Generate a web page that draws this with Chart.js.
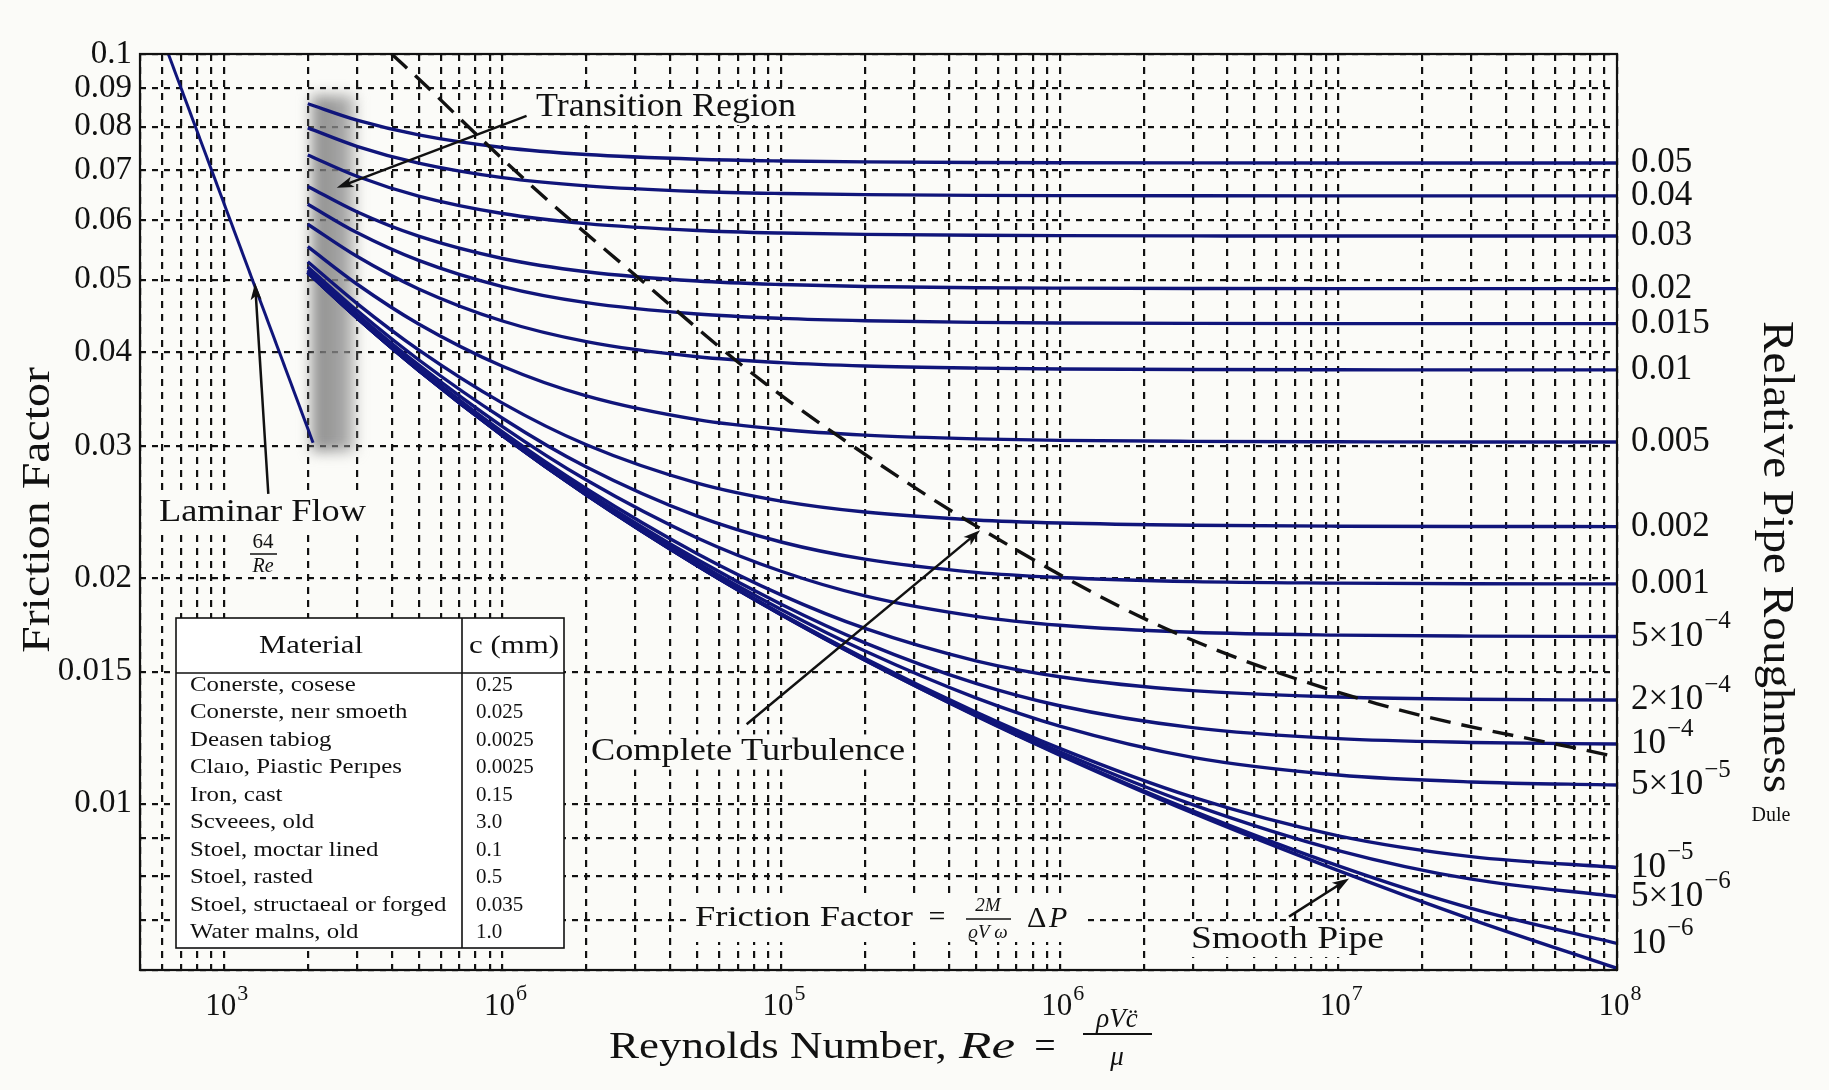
<!DOCTYPE html>
<html>
<head>
<meta charset="utf-8">
<title>Moody Diagram</title>
<script src="https://cdn.jsdelivr.net/npm/chart.js@4.4.1/dist/chart.umd.min.js"></script>
<style>
  html, body { margin: 0; padding: 0; background: #fbfbf8; }
  #wrap { width: 1829px; height: 1090px; }
</style>
</head>
<body>
<div id="wrap"><canvas id="moody" width="1829" height="1090"></canvas></div>
<script>
'use strict';

// ======= chart values =======

var reynolds = [2000, 3000, 5000, 1e4, 2e4, 5e4, 1e5, 2e5, 5e5, 1e6, 3e6, 1e7, 3e7, 1e8];

var rough0_05 = [0.08583, 0.08161, 0.07799, 0.07504, 0.07343, 0.07238, 0.07200, 0.07179, 0.07166, 0.07161, 0.07157, 0.07155, 0.07155, 0.07155];
var rough0_04 = [0.07972, 0.07532, 0.07152, 0.06840, 0.06669, 0.06556, 0.06515, 0.06493, 0.06478, 0.06473, 0.06469, 0.06467, 0.06467, 0.06467];
var rough0_03 = [0.07334, 0.06870, 0.06464, 0.06127, 0.05940, 0.05816, 0.05770, 0.05746, 0.05730, 0.05724, 0.05720, 0.05717, 0.05717, 0.05717];
var rough0_02 = [0.06658, 0.06159, 0.05714, 0.05336, 0.05123, 0.04979, 0.04926, 0.04897, 0.04878, 0.04872, 0.04867, 0.04864, 0.04864, 0.04864];
var rough0_015 = [0.06302, 0.05778, 0.05304, 0.04895, 0.04659, 0.04499, 0.04439, 0.04407, 0.04386, 0.04378, 0.04372, 0.04369, 0.04369, 0.04369];
var rough0_01 = [0.05928, 0.05372, 0.04860, 0.04404, 0.04134, 0.03946, 0.03875, 0.03836, 0.03811, 0.03801, 0.03794, 0.03791, 0.03790, 0.03790];
var rough0_005 = [0.05533, 0.04934, 0.04364, 0.03833, 0.03499, 0.03253, 0.03156, 0.03102, 0.03066, 0.03052, 0.03043, 0.03039, 0.03037, 0.03037];
var rough0_002 = [0.05283, 0.04650, 0.04030, 0.03422, 0.03011, 0.02677, 0.02533, 0.02449, 0.02390, 0.02368, 0.02352, 0.02345, 0.02343, 0.02342];
var rough0_001 = [0.05197, 0.04551, 0.03910, 0.03267, 0.02812, 0.02418, 0.02234, 0.02119, 0.02035, 0.02003, 0.01978, 0.01969, 0.01965, 0.01964];
var rough5e_4 = [0.05153, 0.04500, 0.03848, 0.03184, 0.02702, 0.02262, 0.02042, 0.01893, 0.01778, 0.01730, 0.01693, 0.01678, 0.01673, 0.01671];
var rough2e_4 = [0.05127, 0.04469, 0.03810, 0.03132, 0.02631, 0.02155, 0.01899, 0.01713, 0.01551, 0.01477, 0.01415, 0.01388, 0.01378, 0.01375];
var rough1e_4 = [0.05118, 0.04459, 0.03797, 0.03115, 0.02606, 0.02117, 0.01845, 0.01639, 0.01447, 0.01351, 0.01263, 0.01221, 0.01207, 0.01201];
var rough5e_5 = [0.05114, 0.04454, 0.03791, 0.03106, 0.02594, 0.02096, 0.01816, 0.01598, 0.01384, 0.01269, 0.01153, 0.01092, 0.01069, 0.01059];
var rough1e_5 = [0.05110, 0.04450, 0.03786, 0.03099, 0.02584, 0.02080, 0.01792, 0.01562, 0.01325, 0.01185, 0.01020, 0.00906, 0.00850, 0.00822];
var rough5e_6 = [0.05110, 0.04449, 0.03785, 0.03098, 0.02583, 0.02078, 0.01789, 0.01558, 0.01317, 0.01173, 0.00997, 0.00866, 0.00793, 0.00752];
var rough1e_6 = [0.05110, 0.04449, 0.03785, 0.03097, 0.02582, 0.02076, 0.01787, 0.01554, 0.01311, 0.01163, 0.00978, 0.00826, 0.00725, 0.00651];
var smoothPipe = [0.05109, 0.04449, 0.03785, 0.03097, 0.02581, 0.02076, 0.01786, 0.01553, 0.01309, 0.01161, 0.00972, 0.00814, 0.00701, 0.00603];

var roughSeries = [rough0_05, rough0_04, rough0_03, rough0_02, rough0_015, rough0_01, rough0_005,
  rough0_002, rough0_001, rough5e_4, rough2e_4, rough1e_4, rough5e_5, rough1e_5, rough5e_6, rough1e_6];
var roughLabels = ['0.05', '0.04', '0.03', '0.02', '0.015', '0.01', '0.005', '0.002', '0.001',
  '5\u00d710^\u22124', '2\u00d710^\u22124', '10^\u22124', '5\u00d710^\u22125', '10^\u22125', '5\u00d710^\u22126', '10^\u22126'];

// laminar line, 64/Re
var laminarRe = [632, 2090];
var laminarF = [0.1, 0.0303];

// dashed boundary of complete turbulence
var boundaryRe = [4000, 5350, 7860, 14400, 28700, 75200, 163000, 507000, 2420000, 13700000, 94000000];
var boundaryF = [0.1, 0.0905, 0.0788, 0.0640, 0.0514, 0.0380, 0.0308, 0.0234, 0.0171, 0.0136, 0.0116];

// shaded transition band
var bandRe = [2000, 3000];
var bandF = [0.0295, 0.088];

// axes
var xMin = 500;
var xMax = 1e8;
var yMin = 0.006;
var yMax = 0.1;
var xDecades = [1e3, 1e4, 1e5, 1e6, 1e7, 1e8];
var xDecadeExp = ['3', '\u0431', '5', '6', '7', '8'];
var yTickValues = [0.1, 0.09, 0.08, 0.07, 0.06, 0.05, 0.04, 0.03, 0.02, 0.015, 0.01];
var yTickLabels = ['0.1', '0.09', '0.08', '0.07', '0.06', '0.05', '0.04', '0.03', '0.02', '0.015', '0.01'];
var yGridExtra = [0.009, 0.008, 0.007, 0.006];

// material table
var materialNames = ['Conerste, cosese', 'Conerste, ne\u0131r smoeth', 'Deasen tabiog', 'Cla\u0131o, Piastic Per\u0131pes',
  'Iron, cast', 'Scveees, old', 'Stoel, moctar lined', 'Stoel, rasted', 'Stoel, structaeal or forged', 'Water malns, old'];
var materialRoughness = ['0.25', '0.025', '0.0025', '0.0025', '0.15', '3.0', '0.1', '0.5', '0.035', '1.0'];

// arrow anchors in data space: [tailRe, tailF, tipRe, tipF]
var arrowTransition = [12200, 0.0827, 2541, 0.0663];
var arrowLaminar = [1444, 0.0259, 1294, 0.0495];
var arrowTurbulence = [75200, 0.01276, 518000, 0.02316];
var arrowSmooth = [6650000, 0.00707, 10930000, 0.00795];

// ======= end chart values =======


// ======= helpers =======

var serif = '"Liberation Serif", "DejaVu Serif", serif';
var navy = '#10157a';
var ink = '#111111';
var paper = '#fbfbf8';

function setFont(ctx, size, italic) {
  ctx.font = (italic ? 'italic ' : '') + size + 'px ' + serif;
}

// text with optional forced width (to mimic the wider Computer Modern look)
function drawText(ctx, text, x, y, size, opts) {
  opts = opts || {};
  ctx.save();
  setFont(ctx, size, opts.italic);
  ctx.textBaseline = 'middle';
  ctx.textAlign = 'left';
  var natural = ctx.measureText(text).width;
  var w = opts.width || natural * (opts.stretch || 1);
  var off = 0;
  if (opts.align === 'center') off = -w / 2;
  if (opts.align === 'right') off = -w;
  ctx.translate(x, y);
  if (opts.rotate) ctx.rotate(opts.rotate);
  ctx.translate(off, 0);
  if (opts.bg) {
    ctx.fillStyle = paper;
    ctx.fillRect(-4, -size * 0.55, w + 8, size * 1.1);
  }
  ctx.scale(w / natural, 1);
  ctx.fillStyle = opts.color || ink;
  ctx.fillText(text, 0, 0);
  ctx.restore();
  return w;
}

// "10^-4" style label
function drawPow(ctx, label, x, y, size, align) {
  var parts = label.split('^');
  var base = parts[0];
  var exp = parts[1] || '';
  var expSize = Math.round(size * 0.7);
  ctx.save();
  setFont(ctx, size);
  var wb = ctx.measureText(base).width;
  setFont(ctx, expSize);
  var we = exp ? ctx.measureText(exp).width + 1 : 0;
  ctx.restore();
  var left = x;
  if (align === 'center') left = x - (wb + we) / 2;
  drawText(ctx, base, left, y, size);
  if (exp) drawText(ctx, exp, left + wb + 1, y - size * 0.42, expSize);
}

function drawArrow(ctx, x1, y1, x2, y2) {
  var ang = Math.atan2(y2 - y1, x2 - x1);
  var head = 17;
  var half = 5.5;
  ctx.save();
  ctx.strokeStyle = ink;
  ctx.fillStyle = ink;
  ctx.lineWidth = 2.5;
  ctx.beginPath();
  ctx.moveTo(x1, y1);
  ctx.lineTo(x2 - Math.cos(ang) * head * 0.7, y2 - Math.sin(ang) * head * 0.7);
  ctx.stroke();
  ctx.beginPath();
  ctx.moveTo(x2, y2);
  ctx.lineTo(x2 - head * Math.cos(ang) + half * Math.sin(ang), y2 - head * Math.sin(ang) - half * Math.cos(ang));
  ctx.lineTo(x2 - head * 0.75 * Math.cos(ang), y2 - head * 0.75 * Math.sin(ang));
  ctx.lineTo(x2 - head * Math.cos(ang) - half * Math.sin(ang), y2 - head * Math.sin(ang) + half * Math.cos(ang));
  ctx.closePath();
  ctx.fill();
  ctx.restore();
}

function arrowFromData(chart, a) {
  var xs = chart.scales.x;
  var ys = chart.scales.y;
  drawArrow(chart.ctx, xs.getPixelForValue(a[0]), ys.getPixelForValue(a[1]),
    xs.getPixelForValue(a[2]), ys.getPixelForValue(a[3]));
}

function hLine(ctx, x1, x2, y, w) {
  ctx.save();
  ctx.strokeStyle = ink;
  ctx.lineWidth = w || 1.6;
  ctx.beginPath();
  ctx.moveTo(x1, y);
  ctx.lineTo(x2, y);
  ctx.stroke();
  ctx.restore();
}

function logGrid(from, to) {
  var out = [];
  for (var d = from; d < to; d *= 10) {
    for (var m = 1; m < 10; m++) {
      out.push(m * d);
    }
  }
  out.push(to);
  return out;
}

var xGrid = [500, 600, 700, 800, 900].concat(logGrid(1e3, 1e8));
var yGrid = yTickValues.concat(yGridExtra);

// ======= end helpers =======


// ======= decorations plugin =======

var moodyDecor = {
  id: 'moodyDecor',
  beforeDraw: function (chart) {
    var ctx = chart.ctx;
    ctx.save();
    ctx.fillStyle = paper;
    ctx.fillRect(0, 0, chart.width, chart.height);
    ctx.restore();
  },
  beforeDatasetsDraw: function (chart) {
    var ctx = chart.ctx;
    var xs = chart.scales.x;
    var ys = chart.scales.y;
    var x1 = xs.getPixelForValue(bandRe[0]);
    var x2 = xs.getPixelForValue(bandRe[1]);
    var y1 = ys.getPixelForValue(bandF[1]);
    var y2 = ys.getPixelForValue(bandF[0]);
    ctx.save();
    ctx.filter = 'blur(7px)';
    var g = ctx.createLinearGradient(x1, 0, x2, 0);
    g.addColorStop(0, 'rgba(120,120,120,0.85)');
    g.addColorStop(0.6, 'rgba(135,135,135,0.8)');
    g.addColorStop(1, 'rgba(165,165,165,0.7)');
    ctx.fillStyle = g;
    ctx.fillRect(x1 + 4, y1, x2 - x1 - 6, y2 - y1);
    ctx.restore();
  },
  afterDatasetsDraw: function (chart) {
    var ctx = chart.ctx;
    var area = chart.chartArea;
    var xs = chart.scales.x;
    var ys = chart.scales.y;
    var i;

    // frame
    ctx.save();
    ctx.strokeStyle = ink;
    ctx.lineWidth = 2.2;
    ctx.strokeRect(area.left, area.top, area.right - area.left, area.bottom - area.top);
    ctx.restore();

    // y tick labels
    for (i = 0; i < yTickValues.length; i++) {
      drawText(ctx, yTickLabels[i], area.left - 8, ys.getPixelForValue(yTickValues[i]), 33, { align: 'right' });
    }

    // x tick labels
    for (i = 0; i < xDecades.length; i++) {
      drawPow(ctx, '10^' + xDecadeExp[i], xs.getPixelForValue(xDecades[i]) + 3, area.bottom + 37, 31, 'center');
    }

    // right roughness labels
    for (i = 0; i < roughSeries.length; i++) {
      var last = roughSeries[i][roughSeries[i].length - 1];
      drawPow(ctx, roughLabels[i], area.right + 14, ys.getPixelForValue(last), 35, 'left');
    }

    // axis titles
    drawText(ctx, 'Friction Factor', 38, 510, 40, { align: 'center', width: 286, rotate: -Math.PI / 2 });
    drawText(ctx, 'Relative Pipe Roughness', 1776, 557, 44, { align: 'center', width: 472, rotate: Math.PI / 2 });
    drawText(ctx, 'Dule', 1771, 816, 20, { align: 'center' });

    drawText(ctx, 'Reynolds Number, ', 609, 1048, 38, { width: 349 });
    drawText(ctx, 'Re', 959, 1048, 38, { italic: true, width: 56 });
    drawText(ctx, '=', 1045, 1048, 38, { align: 'center' });
    drawText(ctx, '\u03c1Vc\u0308', 1117, 1020, 27, { italic: true, align: 'center' });
    hLine(ctx, 1083, 1152, 1034, 1.8);
    drawText(ctx, '\u03bc', 1117, 1058, 27, { italic: true, align: 'center' });

    // material table
    var tl = 176, tr = 564, tt = 618, tb = 948, tc = 462, th = 673;
    ctx.save();
    ctx.fillStyle = '#ffffff';
    ctx.fillRect(tl, tt, tr - tl, tb - tt);
    ctx.strokeStyle = ink;
    ctx.lineWidth = 1.6;
    ctx.strokeRect(tl, tt, tr - tl, tb - tt);
    ctx.beginPath();
    ctx.moveTo(tc, tt);
    ctx.lineTo(tc, tb);
    ctx.moveTo(tl, th);
    ctx.lineTo(tr, th);
    ctx.stroke();
    ctx.restore();
    drawText(ctx, 'Material', 311, 646, 26, { align: 'center', width: 104 });
    drawText(ctx, 'c (mm)', 514, 646, 26, { align: 'center', width: 90 });
    for (i = 0; i < materialNames.length; i++) {
      var ry = 685 + i * 27.5;
      drawText(ctx, materialNames[i], 190, ry, 22, { stretch: 1.13 });
      drawText(ctx, materialRoughness[i], 476, ry, 21);
    }

    // annotations
    drawText(ctx, 'Transition Region', 536, 107, 33, { width: 260, bg: true });
    arrowFromData(chart, arrowTransition);

    drawText(ctx, 'Laminar Flow', 159, 513, 32, { width: 207, bg: true });
    drawText(ctx, '64', 263, 542, 21, { align: 'center' });
    hLine(ctx, 250, 277, 554, 1.5);
    drawText(ctx, 'Re', 263, 567, 20, { align: 'center', italic: true });
    arrowFromData(chart, arrowLaminar);

    drawText(ctx, 'Complete Turbulence', 591, 752, 32, { width: 314, bg: true });
    arrowFromData(chart, arrowTurbulence);

    ctx.save();
    ctx.fillStyle = paper;
    ctx.fillRect(690, 898, 392, 44);
    ctx.restore();
    drawText(ctx, 'Friction Factor', 695, 918, 30, { width: 218 });
    drawText(ctx, '=', 937, 918, 30, { align: 'center' });
    drawText(ctx, '2M', 988, 906, 19, { align: 'center', italic: true });
    hLine(ctx, 966, 1011, 919, 1.4);
    drawText(ctx, '\u03f1V \u03c9', 988, 933, 19, { align: 'center', italic: true });
    drawText(ctx, '\u0394', 1027, 919, 30);
    drawText(ctx, 'P', 1049, 919, 30, { italic: true });

    drawText(ctx, 'Smooth Pipe', 1191, 940, 31, { width: 193, bg: true });
    arrowFromData(chart, arrowSmooth);
  }
};

// ======= end decorations plugin =======


// ======= datasets =======

function curveData(values) {
  var pts = [];
  for (var i = 0; i < reynolds.length; i++) {
    pts.push({ x: reynolds[i], y: values[i] });
  }
  return pts;
}

function pairData(xsArr, ysArr) {
  var pts = [];
  for (var i = 0; i < xsArr.length; i++) {
    pts.push({ x: xsArr[i], y: ysArr[i] });
  }
  return pts;
}

var datasets = [];

datasets.push({
  label: 'Complete turbulence boundary',
  data: pairData(boundaryRe, boundaryF),
  borderColor: ink,
  borderWidth: 3.4,
  borderDash: [21, 11],
  cubicInterpolationMode: 'monotone'
});

datasets.push({
  label: 'Laminar 64/Re',
  data: pairData(laminarRe, laminarF),
  borderColor: navy,
  borderWidth: 3
});

for (var s = 0; s < roughSeries.length; s++) {
  datasets.push({
    label: roughLabels[s],
    data: curveData(roughSeries[s]),
    borderColor: navy,
    borderWidth: 3.4,
    cubicInterpolationMode: 'monotone'
  });
}

datasets.push({
  label: 'Smooth pipe',
  data: curveData(smoothPipe),
  borderColor: navy,
  borderWidth: 3.4,
  cubicInterpolationMode: 'monotone'
});

// ======= end datasets =======


// ======= chart =======

var ctx = document.getElementById('moody').getContext('2d');
var chart = new Chart(ctx, {
  type: 'line',
  data: { datasets: datasets },
  options: {
    responsive: false,
    animation: false,
    devicePixelRatio: 1,
    layout: { padding: { left: 140, top: 54, right: 212, bottom: 120 } },
    elements: { point: { radius: 0 }, line: { fill: false } },
    plugins: { legend: { display: false }, tooltip: { enabled: false } },
    scales: {
      x: {
        type: 'logarithmic',
        min: xMin,
        max: xMax,
        afterBuildTicks: function (scale) {
          scale.ticks = xGrid.map(function (v) { return { value: v }; });
        },
        ticks: { display: false },
        grid: { color: ink, lineWidth: 2.2, drawTicks: false },
        border: { display: false, dash: [7, 6] }
      },
      y: {
        type: 'logarithmic',
        min: yMin,
        max: yMax,
        afterBuildTicks: function (scale) {
          scale.ticks = yGrid.map(function (v) { return { value: v }; });
        },
        ticks: { display: false },
        grid: { color: ink, lineWidth: 2.2, drawTicks: false },
        border: { display: false, dash: [6, 6] }
      }
    }
  },
  plugins: [moodyDecor]
});
</script>
</body>
</html>
